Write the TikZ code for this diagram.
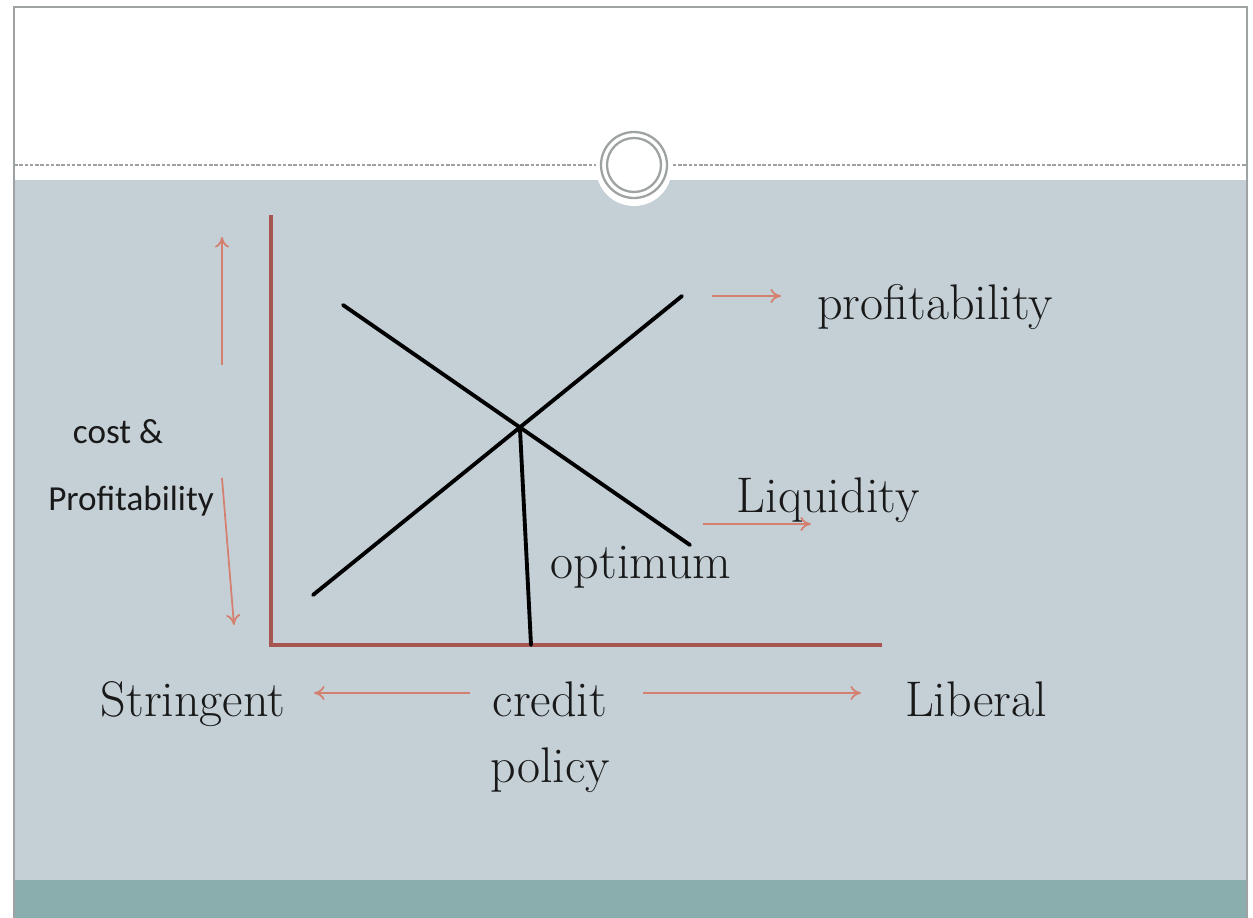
\documentclass[tikz,border=0pt]{standalone}
\usepackage{fontspec}
\usetikzlibrary{arrows.meta}
\newfontfamily\calibri{Carlito}
\definecolor{slide}{RGB}{197,208,214}
\definecolor{band}{RGB}{138,173,173}
\definecolor{axisred}{RGB}{166,86,78}
\definecolor{pointer}{RGB}{212,128,112}
\definecolor{frame}{RGB}{158,162,162}
\definecolor{ink}{RGB}{25,25,25}

\begin{document}
\begin{tikzpicture}[x=0.02cm,y=-0.02cm,
  big/.style={font=\fontsize{28.5}{34}\selectfont,text=ink,inner sep=0pt,anchor=base},
  small/.style={font=\calibri\fontsize{20}{24}\selectfont,text=ink,inner sep=0pt,anchor=base},
  pointer/.style={draw=pointer,line width=1pt,-{To[length=6pt,width=8pt]}},
  curve/.style={line width=2.2pt,line cap=round}]
  \useasboundingbox (0,0) rectangle (1253,918);
  % slide background
  \fill[white] (0,0) rectangle (1253,918);
  \fill[slide] (14,180) rectangle (1247,880);
  \fill[band] (14,880) rectangle (1247,918);
  \draw[frame,line width=1.5pt] (14,918) -- (14,7) -- (1247,7) -- (1247,918);
  \draw[frame,line width=1pt,dash pattern=on 2pt off 1pt] (14,165) -- (1247,165);
  \fill[white] (634,168) circle (38);
  \draw[frame,line width=1.3pt] (634,165) circle (33) (634,165) circle (27);

  % axes
  \coordinate (ytop) at (271,215);
  \coordinate (O) at (271,645);
  \coordinate (xend) at (882,645);
  \draw[axisred,line width=2.6pt] (ytop) -- (O) -- (xend);

  % the two curves and the optimum
  \coordinate (p1) at (313,595); \coordinate (p2) at (682,296);
  \coordinate (l1) at (343,305); \coordinate (l2) at (690,545);
  \coordinate (opt) at (intersection of p1--p2 and l1--l2);
  \coordinate (foot) at (531,645);
  \draw[curve] (p1) -- (p2);
  \draw[curve] (l1) -- (l2);
  \draw[curve] (opt) -- (foot);

  % labels
  \node[big] (profit) at (935,320) {profitability};
  \node[big] (liquid) at (828,512) {Liquidity};
  \node[big] (optimum) at (641,578) {optimum};
  \node[big] (stringent) at (193,716) {Stringent};
  \node[big] (credit) at (550,716) {credit};
  \node[big] (policy) at (550,782) {policy};
  \node[big] (liberal) at (976,716) {Liberal};
  \node[small] (cost) at (118,443) {cost \&};
  \node[small] (profitab) at (131,510) {Profitability};

  % arrows
  \coordinate (a1) at (222,365); \coordinate (a2) at (222,237);
  \coordinate (b1) at (222,478); \coordinate (b2) at (234,625);
  \coordinate (c1) at (712,296); \coordinate (c2) at (781,296);
  \coordinate (d1) at (703,524); \coordinate (d2) at (811,524);
  \coordinate (e1) at (470,693); \coordinate (e2) at (314,693);
  \coordinate (f1) at (643,693); \coordinate (f2) at (861,693);
  \foreach \s/\t in {a1/a2,b1/b2,c1/c2,d1/d2,e1/e2,f1/f2}
    \draw[pointer] (\s) -- (\t);
\end{tikzpicture}
\end{document}
